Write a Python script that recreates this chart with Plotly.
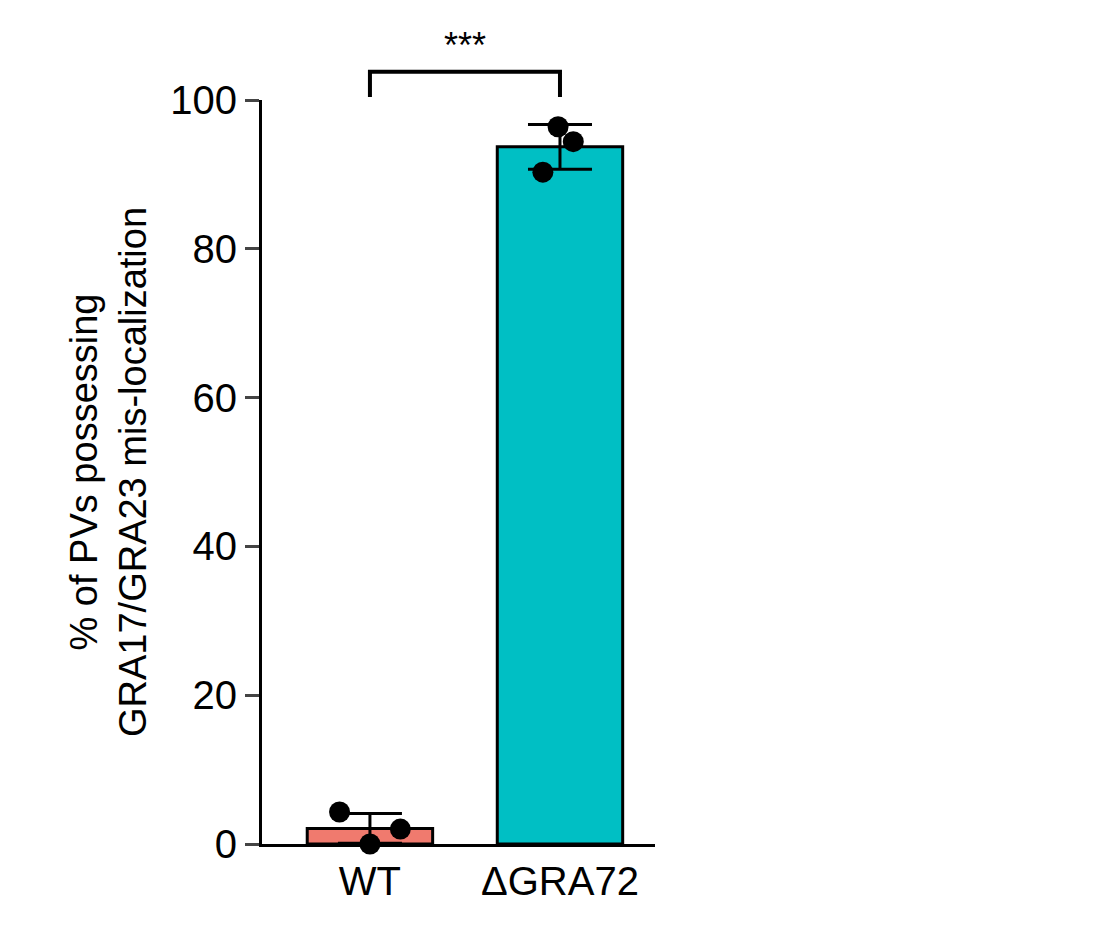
import plotly.graph_objects as go

categories = ["WT", "ΔGRA72"]
means = [2.1, 93.7]
sds = [2.0, 3.0]
points_wt = [4.3, 0.0, 2.0]
points_ko = [96.4, 94.4, 90.3]
point_offsets = [-0.16, 0.0, 0.16]
ko_offsets = [-0.01, 0.07, -0.09]
colors = ["#F07A6E", "#00BFC4"]
yticks = [0, 20, 40, 60, 80, 100]

fig = go.Figure()
fig.add_bar(x=[0, 1], y=means, width=0.66, marker=dict(color=colors, line=dict(color="black", width=3)),
            error_y=dict(type="data", array=sds, color="black", thickness=3, width=32), showlegend=False)
fig.add_scatter(x=[0 + o for o in point_offsets] + [1 + o for o in ko_offsets], y=points_wt + points_ko,
                mode="markers", marker=dict(color="black", size=21), showlegend=False, cliponaxis=False)
fig.add_shape(type="path", path="M 0,1.004 L 0,1.038 L 1,1.038 L 1,1.004", xref="x", yref="paper",
              line=dict(color="black", width=4))
fig.add_annotation(x=0.5, y=1.043, text="***", showarrow=False, yanchor="bottom", xref="x", yref="paper",
                   font=dict(size=36, color="black"))
fig.update_layout(
    width=1108, height=929, plot_bgcolor="white", paper_bgcolor="white",
    margin=dict(l=254, r=461, t=92, b=93),
    font=dict(family="Liberation Sans, Arial", color="black"),
    xaxis=dict(range=[-0.568, 1.5], tickvals=[0, 1], ticktext=categories, showline=True, linecolor="black",
               linewidth=3, ticks="", tickfont=dict(size=40), showgrid=False, zeroline=False),
    yaxis=dict(range=[0, 100], tickvals=yticks, showline=True, linecolor="black", linewidth=3, ticks="outside",
               ticklen=14, tickwidth=3, tickfont=dict(size=40), showgrid=False, zeroline=False,
               title=dict(text="% of PVs possessing<br>GRA17/GRA23 mis-localization", font=dict(size=38), standoff=12)),
)
fig.write_html("out.html")
